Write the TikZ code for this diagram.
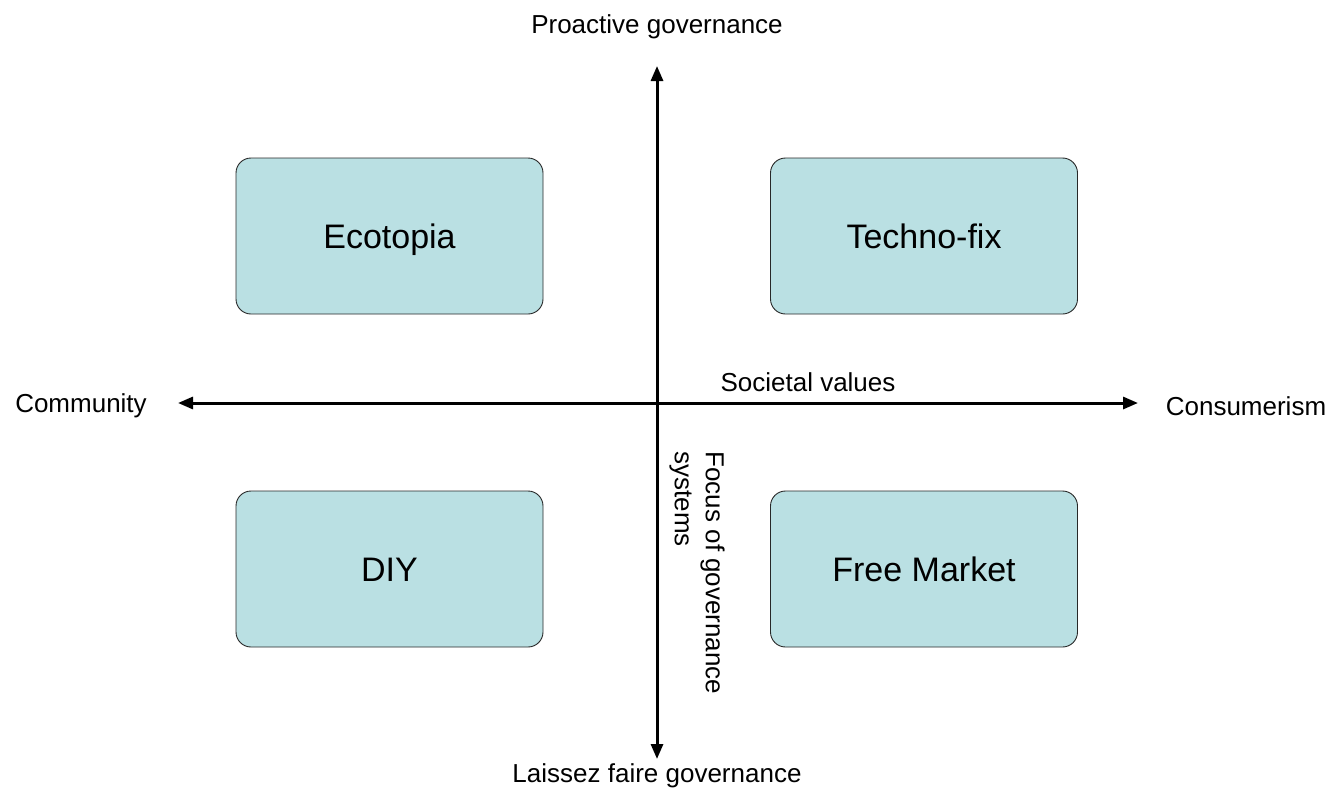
\documentclass[tikz,border=0pt]{standalone}
\usepackage{fontspec}
\setmainfont{Liberation Sans}
\usetikzlibrary{arrows.meta}
\definecolor{boxfill}{RGB}{186,224,227}
\definecolor{boxline}{RGB}{40,40,40}

\begin{document}
\begin{tikzpicture}[x=1pt, y=-1pt,
    scenario/.style={draw=boxline, line width=0.9pt, fill=boxfill, rounded corners=15pt,
        minimum width=307pt, minimum height=156pt, inner sep=0pt,
        text height=24pt, text depth=0pt,
        font=\fontsize{34}{40}\selectfont},
    axislabel/.style={inner sep=0pt, font=\fontsize{26}{31}\selectfont},
    axis/.style={line width=3pt, {Triangle[length=15pt,width=12pt]}-{Triangle[length=15pt,width=12pt]}}]
    \useasboundingbox (0,0) rectangle (1337,792);

    % Scenario boxes
    \node[scenario] (ecotopia) at (389.5,236) {Ecotopia};
    \node[scenario] (technofix) at (924,236) {Techno-fix};
    \node[scenario] (diy) at (389.5,569) {DIY};
    \node[scenario] (freemarket) at (924,569) {Free Market};

    % Axis ends
    \coordinate (ytop) at (657,66);
    \coordinate (ybot) at (657,759);
    \coordinate (xleft) at (178,403);
    \coordinate (xright) at (1138,403);

    % Axes
    \draw[axis] (ybot) -- (ytop);
    \draw[axis] (xleft) -- (xright);

    % Axis labels
    \node[axislabel] (proactive) at (657,27) {Proactive governance};
    \node[axislabel] (laissez) at (657,776) {Laissez faire governance};
    \node[axislabel] (community) at (81,406) {Community};
    \node[axislabel] (consumerism) at (1246,406) {Consumerism};
    \node[axislabel] (societal) at (808,382) {Societal values};
    \node[axislabel, rotate=-90, align=left] (focus) at (697,573) {Focus of governance\\systems};
\end{tikzpicture}
\end{document}
